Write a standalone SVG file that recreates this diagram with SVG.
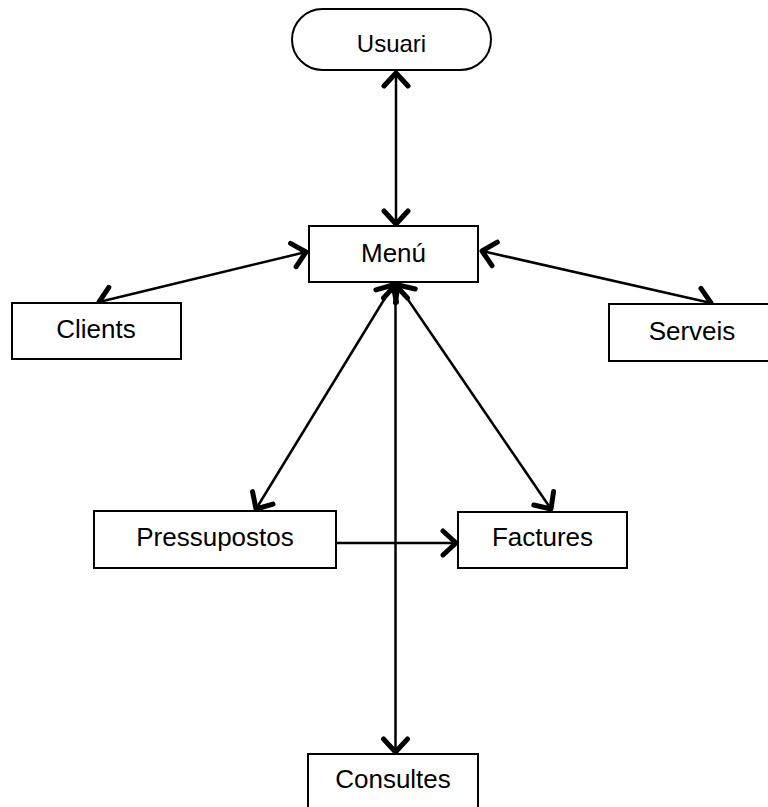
<svg xmlns="http://www.w3.org/2000/svg" width="768" height="807" viewBox="0 0 768 807">
<style>
.box{fill:#fff;stroke:#000;stroke-width:2}
.lbl{font-family:"Liberation Sans",Arial,sans-serif;font-size:26px;fill:#000;text-anchor:middle}
.ln{stroke:#000;stroke-width:2.5;fill:none}
</style>
<defs>
<marker id="ah" viewBox="0 0 20 30" refX="16" refY="15" markerWidth="20" markerHeight="30" markerUnits="userSpaceOnUse" orient="auto-start-reverse">
<path d="M3,3 L16,15 L3,27" fill="none" stroke="#000" stroke-width="5" stroke-linecap="round" stroke-linejoin="round"/>
</marker>
</defs>
<rect width="768" height="807" fill="#fff"/>
<g id="connectors">
<line class="ln" x1="396" y1="73" x2="396" y2="224" marker-start="url(#ah)" marker-end="url(#ah)"/>
<line class="ln" x1="306" y1="252" x2="99" y2="302" marker-start="url(#ah)" marker-end="url(#ah)"/>
<line class="ln" x1="482" y1="251" x2="711" y2="303" marker-start="url(#ah)" marker-end="url(#ah)"/>
<line class="ln" x1="393" y1="285" x2="256" y2="509" marker-start="url(#ah)" marker-end="url(#ah)"/>
<line class="ln" x1="398" y1="285" x2="551" y2="509" marker-start="url(#ah)" marker-end="url(#ah)"/>
<line class="ln" x1="395.5" y1="285" x2="395.5" y2="752" marker-start="url(#ah)" marker-end="url(#ah)"/>
<line class="ln" x1="337" y1="543" x2="456" y2="543" marker-end="url(#ah)"/>
</g>
<g id="usuari"><rect class="box" x="292" y="9" width="199" height="61" rx="30.5"/><text class="lbl" x="391.5" y="52" style="font-size:24px">Usuari</text></g>
<g id="menu"><rect class="box" x="309" y="226" width="169" height="56"/><text class="lbl" x="393.5" y="262">Menú</text></g>
<g id="clients"><rect class="box" x="12" y="303" width="169" height="56"/><text class="lbl" x="96" y="338">Clients</text></g>
<g id="serveis"><rect class="box" x="609" y="304" width="169" height="57"/><text class="lbl" x="692" y="340">Serveis</text></g>
<g id="pressupostos"><rect class="box" x="94" y="511" width="242" height="57"/><text class="lbl" x="215" y="546">Pressupostos</text></g>
<g id="factures"><rect class="box" x="458" y="512" width="169" height="56"/><text class="lbl" x="542.5" y="546">Factures</text></g>
<g id="consultes"><rect class="box" x="308" y="754" width="170" height="60"/><text class="lbl" x="393" y="788">Consultes</text></g>
</svg>
